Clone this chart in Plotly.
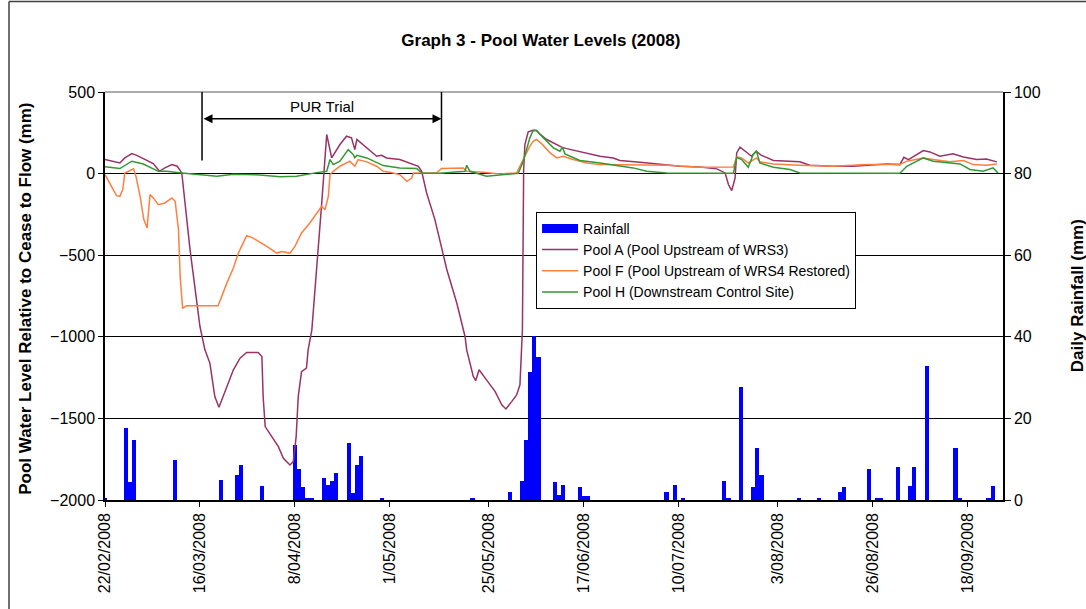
import pandas as pd
import plotly.graph_objects as go

START = pd.Timestamp("2008-02-22")

TICK_LABELS = ["22/02/2008", "16/03/2008", "8/04/2008", "1/05/2008", "25/05/2008",
               "17/06/2008", "10/07/2008", "3/08/2008", "26/08/2008", "18/09/2008"]

# Daily rainfall (mm): day offset from 22/02/2008
RAIN_DAY = [0, 5, 6, 7, 17, 28, 32, 33, 38, 46,
            47, 48, 49, 50, 53, 54, 55, 56, 59, 60,
            61, 62, 67, 89, 98, 101, 102, 103, 104, 105,
            109, 110, 111, 115, 116, 117, 136, 138, 140, 150,
            151, 154, 157, 158, 159, 168, 173, 178, 179, 185,
            187, 188, 192, 195, 196, 199, 206, 207, 214, 215]
RAIN_MM = [0.3, 17.7, 4.3, 14.7, 9.7, 5.0, 6.2, 8.5, 3.5, 13.5,
           7.7, 3.1, 0.3, 0.3, 5.5, 3.6, 4.7, 6.6, 13.9, 1.6,
           8.5, 10.8, 0.4, 0.3, 1.9, 4.6, 14.7, 31.3, 40.1, 35.1,
           4.3, 1.2, 3.6, 3.1, 1.1, 1.1, 1.9, 3.6, 0.4, 4.7,
           0.5, 27.8, 3.1, 12.7, 6.2, 0.5, 0.5, 1.9, 3.1, 7.7,
           0.5, 0.5, 8.1, 3.5, 8.1, 32.8, 12.7, 0.5, 0.5, 3.5]

# Pool A (Pool Upstream of WRS3)
POOL_A_DAY = [0, 2.0, 3.6, 4.8, 6.5, 7.7, 9.3, 11.7, 13.2, 14.5,
              16.2, 17.5, 18.6, 20.6, 23.0, 24.2, 25.4, 26.6, 27.6, 29.5,
              31.1, 32.7, 34.3, 37.1, 38.0, 38.3, 38.8, 40.4, 42.0, 43.2,
              44.8, 45.6, 46.3, 46.8, 47.6, 48.8, 49.2, 50.1, 51.3, 52.5,
              53.7, 54.9, 56.9, 58.5, 59.7, 60.5, 61.0, 63.4, 65.8, 67.0,
              68.2, 71.4, 73.9, 75.9, 76.7, 77.9, 79.9, 81.5, 82.8, 85.2,
              87.2, 87.6, 89.2, 89.8, 90.6, 92.4, 94.5, 96.1, 97.1, 98.5,
              99.7, 100.5, 100.8, 101.1, 101.4, 101.7, 102.5, 103.7, 104.5, 105.4,
              107.0, 109.4, 110.6, 111.8, 116.7, 119.9, 123.1, 124.7, 129.6, 136.0,
              139.3, 144.1, 148.2, 150.2, 151.0, 151.8, 152.6, 153.0, 153.8, 155.4,
              156.6, 157.7, 159.0, 161.9, 165.1, 168.3, 170.7, 176.4, 181.2, 186.1,
              189.3, 192.5, 193.5, 194.6, 195.8, 198.2, 199.8, 202.2, 205.4, 207.9,
              211.1, 213.5, 216.0]
POOL_A_MM = [86, 72, 65, 96, 123, 112, 90, 61, 14, 35,
             55, 45, 4, -466, -937, -1080, -1161, -1366, -1432, -1305,
             -1202, -1131, -1096, -1096, -1121, -1366, -1550, -1612, -1673, -1744,
             -1785, -1765, -1612, -1366, -1213, -1192, -1080, -957, -589, -178,
             240, 96, 178, 229, 219, 147, 209, 158, 106, 112,
             96, 86, 65, 45, 14, -119, -282, -446, -589, -793,
             -998, -1080, -1243, -1268, -1202, -1264, -1336, -1417, -1442, -1397,
             -1356, -1294, -1161, -957, 25, 178, 256, 266, 264, 240,
             209, 178, 162, 153, 127, 106, 96, 80, 70, 55,
             45, 41, 29, 4, -67, -104, -27, 127, 162, 131,
             106, 137, 112, 80, 76, 72, 51, 45, 45, 55,
             59, 55, 100, 86, 106, 141, 133, 106, 121, 102,
             86, 90, 72]

# Pool F (Pool Upstream of WRS4 Restored)
POOL_F_DAY = [0, 1.6, 2.8, 3.6, 4.3, 4.8, 5.6, 6.9, 7.5, 8.5,
              9.4, 10.2, 10.9, 11.7, 12.9, 14.5, 16.2, 17.0, 17.8, 18.2,
              18.8, 19.8, 27.4, 29.5, 31.1, 32.3, 34.3, 35.9, 39.2, 41.6,
              42.8, 44.8, 46.0, 47.6, 49.6, 51.3, 52.5, 53.3, 54.1, 54.5,
              55.3, 56.9, 59.3, 60.5, 61.3, 63.4, 65.8, 67.4, 69.0, 71.4,
              73.1, 74.3, 74.7, 80.3, 81.5, 86.8, 87.6, 91.6, 95.7, 99.7,
              101.7, 102.9, 103.7, 104.5, 105.8, 107.8, 109.4, 111.0, 113.4, 116.7,
              119.9, 127.9, 136.0, 144.1, 152.2, 153.0, 154.2, 155.8, 157.8, 158.6,
              161.9, 168.3, 176.4, 184.5, 192.5, 194.2, 198.2, 200.6, 204.6, 207.9,
              210.3, 213.5, 216.0]
POOL_F_MM = [-6, -78, -135, -139, -98, 4, 14, 29, -16, -139,
             -282, -333, -129, -149, -190, -180, -149, -170, -344, -630,
             -824, -810, -810, -671, -579, -487, -380, -395, -446, -487,
             -477, -487, -446, -364, -303, -241, -200, -221, -139, -6,
             14, 45, 76, 45, 86, 72, 45, 14, 8, -6,
             -47, -27, 4, 4, 31, 35, 14, 8, -2, 4,
             106, 168, 198, 209, 182, 127, 96, 106, 86, 65,
             55, 55, 51, 39, 41, 102, 96, 65, 96, 72,
             59, 51, 45, 55, 55, 76, 96, 86, 72, 80,
             55, 51, 59]

# Pool H (Downstream Control Site)
POOL_H_DAY = [0, 3.6, 6.5, 9.3, 12.9, 14.9, 18.6, 27.1, 31.1, 37.5,
              42.4, 46.4, 51.3, 53.7, 54.5, 55.3, 56.9, 58.9, 60.1, 60.5,
              61.0, 63.4, 67.4, 71.4, 75.5, 76.7, 81.1, 87.2, 87.6, 88.4,
              92.4, 95.7, 100.1, 101.3, 102.9, 103.7, 104.5, 106.2, 108.6, 110.2,
              110.8, 111.4, 115.0, 117.5, 119.9, 127.9, 131.2, 136.0, 144.1, 152.2,
              153.0, 154.2, 155.8, 157.0, 157.8, 158.6, 161.9, 165.9, 168.3, 192.5,
              194.2, 195.8, 198.2, 200.6, 204.6, 207.1, 209.5, 212.7, 215.1, 216.3]
POOL_H_MM = [42, 31, 76, 59, 14, 14, 4, -16, -4, -8,
             -20, -16, 6, 14, 86, 55, 76, 147, 117, 96,
             112, 96, 49, 35, 31, 4, 2, 14, 51, 14,
             -16, -10, 2, 76, 219, 264, 264, 219, 158, 137,
             162, 121, 80, 72, 65, 35, 14, 4, 2, 2,
             100, 86, 39, 117, 137, 65, 39, 25, 4, 2,
             45, 65, 96, 76, 65, 59, 25, 14, 35, 4]

PUR_START = "2008-03-16 12:00"
PUR_END = "2008-05-13 12:00"
X_END = "2008-09-26 12:00"

FONT = "Liberation Sans, Arial, sans-serif"


def to_dates(days):
    return [START + pd.Timedelta(days=d) for d in days]


fig = go.Figure()

fig.add_trace(go.Bar(
    x=to_dates(RAIN_DAY), y=RAIN_MM, width=86400000,
    marker=dict(color="#0000FF", line=dict(width=0)),
    name="Rainfall", showlegend=False, yaxis="y"))

# legend entry for the rainfall bars (wide blue swatch as in the original)
fig.add_trace(go.Scatter(
    x=[None], y=[None], mode="lines", name="Rainfall",
    line=dict(color="#0000FF", width=9), yaxis="y2"))

fig.add_trace(go.Scatter(
    x=to_dates(POOL_A_DAY), y=POOL_A_MM, mode="lines",
    name="Pool A (Pool Upstream of WRS3)",
    line=dict(color="#993366", width=1.5), yaxis="y2"))
fig.add_trace(go.Scatter(
    x=to_dates(POOL_F_DAY), y=POOL_F_MM, mode="lines",
    name="Pool F (Pool Upstream of WRS4 Restored)",
    line=dict(color="#FF7F3F", width=1.5), yaxis="y2"))
fig.add_trace(go.Scatter(
    x=to_dates(POOL_H_DAY), y=POOL_H_MM, mode="lines",
    name="Pool H (Downstream Control Site)",
    line=dict(color="#339933", width=1.5), yaxis="y2"))

tickvals = pd.to_datetime(TICK_LABELS, dayfirst=True)

fig.update_layout(
    width=1086, height=609,
    margin=dict(l=105, r=83, t=92, b=109, autoexpand=False),
    paper_bgcolor="white", plot_bgcolor="white",
    font=dict(family=FONT, size=16, color="black"),
    title=dict(text="<b>Graph 3 - Pool Water Levels (2008)</b>",
               x=0.498, xref="container", xanchor="center",
               y=1 - 40 / 609, yref="container", yanchor="middle",
               font=dict(size=17, family=FONT, color="black")),
    bargap=0,
    xaxis=dict(type="date", range=[START, X_END], automargin=False,
               tickvals=tickvals, ticktext=TICK_LABELS, tickangle=-90,
               showgrid=False, zeroline=False, showline=True,
               linecolor="black", linewidth=1.5,
               ticks="outside", ticklen=5, tickcolor="black",
               tickfont=dict(size=16)),
    yaxis=dict(side="right", range=[0, 100], tickvals=[0, 20, 40, 60, 80, 100],
               automargin=False,
               showgrid=True, gridcolor="black", gridwidth=1.2,
               zeroline=False, showline=True, linecolor="black", linewidth=1.5,
               ticks="outside", ticklen=6, tickcolor="black",
               tickfont=dict(size=16)),
    yaxis2=dict(side="left", overlaying="y", range=[-2000, 500],
                tickvals=[-2000, -1500, -1000, -500, 0, 500], automargin=False,
                showgrid=False, zeroline=False, showline=True,
                linecolor="black", linewidth=1.5,
                ticks="outside", ticklen=5, tickcolor="black",
                tickfont=dict(size=16)),
    legend=dict(x=0.48, y=0.7064, xanchor="left", yanchor="top",
                xref="paper", yref="paper",
                bgcolor="white", bordercolor="black", borderwidth=1,
                font=dict(size=14, family=FONT, color="black"),
                itemwidth=36, tracegroupgap=0),
    showlegend=True,
)

# plot-area top border (grey)
fig.add_shape(type="line", xref="paper", yref="paper", x0=0, x1=1, y0=1, y1=1,
              line=dict(color="#909090", width=1.5), layer="above")
# chart-area outer border (left and top)
fig.add_shape(type="line", xref="paper", yref="paper", x0=-0.1069, x1=-0.1069,
              y0=-0.27, y1=1.222, line=dict(color="#404040", width=1.5))
fig.add_shape(type="line", xref="paper", yref="paper", x0=-0.1069, x1=1.1,
              y0=1.222, y1=1.222, line=dict(color="#404040", width=1.5))

# PUR Trial markers
for xd in (PUR_START, PUR_END):
    fig.add_shape(type="line", xref="x", yref="y2", x0=xd, x1=xd, y0=80, y1=500,
                  line=dict(color="black", width=1.5))
fig.add_annotation(x=PUR_END, y=336, ax=PUR_START, ay=336,
                   xref="x", yref="y2", axref="x", ayref="y2",
                   text="", showarrow=True, arrowside="end+start",
                   arrowhead=2, startarrowhead=2, arrowsize=1.2, startarrowsize=1.2,
                   arrowwidth=1.5, arrowcolor="black")
fig.add_annotation(x=pd.Timestamp(PUR_START) + (pd.Timestamp(PUR_END) - pd.Timestamp(PUR_START)) / 2,
                   y=413, xref="x", yref="y2", text="PUR Trial", showarrow=False,
                   xanchor="center", yanchor="middle",
                   font=dict(size=15, family=FONT, color="black"))

# axis titles
fig.add_annotation(x=-0.088, y=0.493, xref="paper", yref="paper",
                   xanchor="center", yanchor="middle",
                   text="<b>Pool Water Level Relative to Cease to Flow (mm)</b>",
                   textangle=-90, showarrow=False,
                   font=dict(size=17, family=FONT, color="black"))
fig.add_annotation(x=1.0824, y=0.502, xref="paper", yref="paper",
                   xanchor="center", yanchor="middle",
                   text="<b>Daily Rainfall (mm)</b>",
                   textangle=-90, showarrow=False,
                   font=dict(size=17, family=FONT, color="black"))

# remove the default page margin so the 1086x609 figure fills the window exactly
fig.write_html("out.html",
               config={"displayModeBar": False},
               post_script="document.body.style.margin='0';"
                           "document.body.style.overflow='hidden';")
